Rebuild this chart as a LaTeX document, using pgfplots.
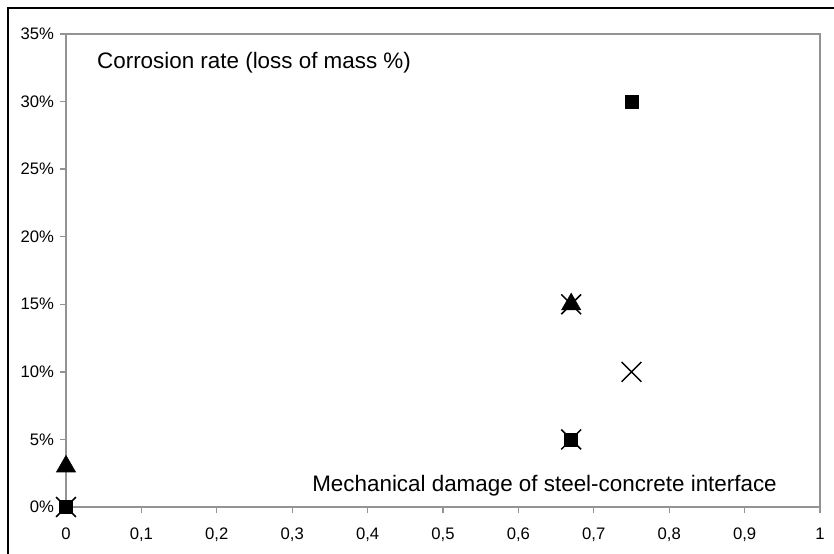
\documentclass[border=0pt]{standalone}
\usepackage{pgfplots}
\pgfplotsset{compat=1.18}
\usepackage{fontspec}
\setmainfont{Liberation Sans}
\begin{document}
\begin{tikzpicture}
\path[use as bounding box] (0,0) rectangle (625.5pt,414.75pt);
\begin{axis}[
  at={(49.5pt,34.5pt)}, anchor=south west,
  scale only axis, width=565.5pt, height=354.75pt,
  xmin=0, xmax=1, ymin=0, ymax=35,
  xtick={0,0.1,...,1}, ytick={0,5,...,35},
  /pgf/number format/assume math mode=true,
  /pgf/number format/use comma,
  yticklabel={\pgfmathprintnumber{\tick}\%},
  axis line style={draw=gray!85, line width=1.2pt},
  tick style={draw=gray!85, line width=1pt},
  tick align=outside,
  xtick pos=bottom, ytick pos=left,
  major tick length=4.5pt,
  ticklabel style={font=\fontsize{12.5}{14}\selectfont},
  xticklabel style={yshift=-7.5pt},
  yticklabel style={xshift=-1pt},
  clip=false,
]
\addplot[only marks, mark=x, mark size=10.5pt, mark options={line width=1.15pt, draw=black}]
  coordinates {(0,0) (0.67,5) (0.67,15) (0.75,10)};
\addplot[only marks, mark=square*, mark size=4.9pt, mark options={fill=black, draw=black}]
  coordinates {(0,0) (0.67,5) (0.75,30)};
\addplot[only marks, mark=triangle*, mark size=8.3pt, mark options={fill=black, draw=black}]
  coordinates {(0,3) (0.67,15)};
\node[anchor=west, inner sep=0pt, font=\fontsize{16.8}{20}\selectfont] at (axis cs:0.041,32.9) {Corrosion rate (loss of mass \%)};
\node[anchor=east, inner sep=0pt, font=\fontsize{16.8}{20}\selectfont] at (axis cs:0.943,1.6) {Mechanical damage of steel-concrete interface};
\end{axis}
\draw[line width=1.5pt] (6pt,-2pt) -- (6pt,408.75pt) -- (630pt,408.75pt);
\end{tikzpicture}
\end{document}
